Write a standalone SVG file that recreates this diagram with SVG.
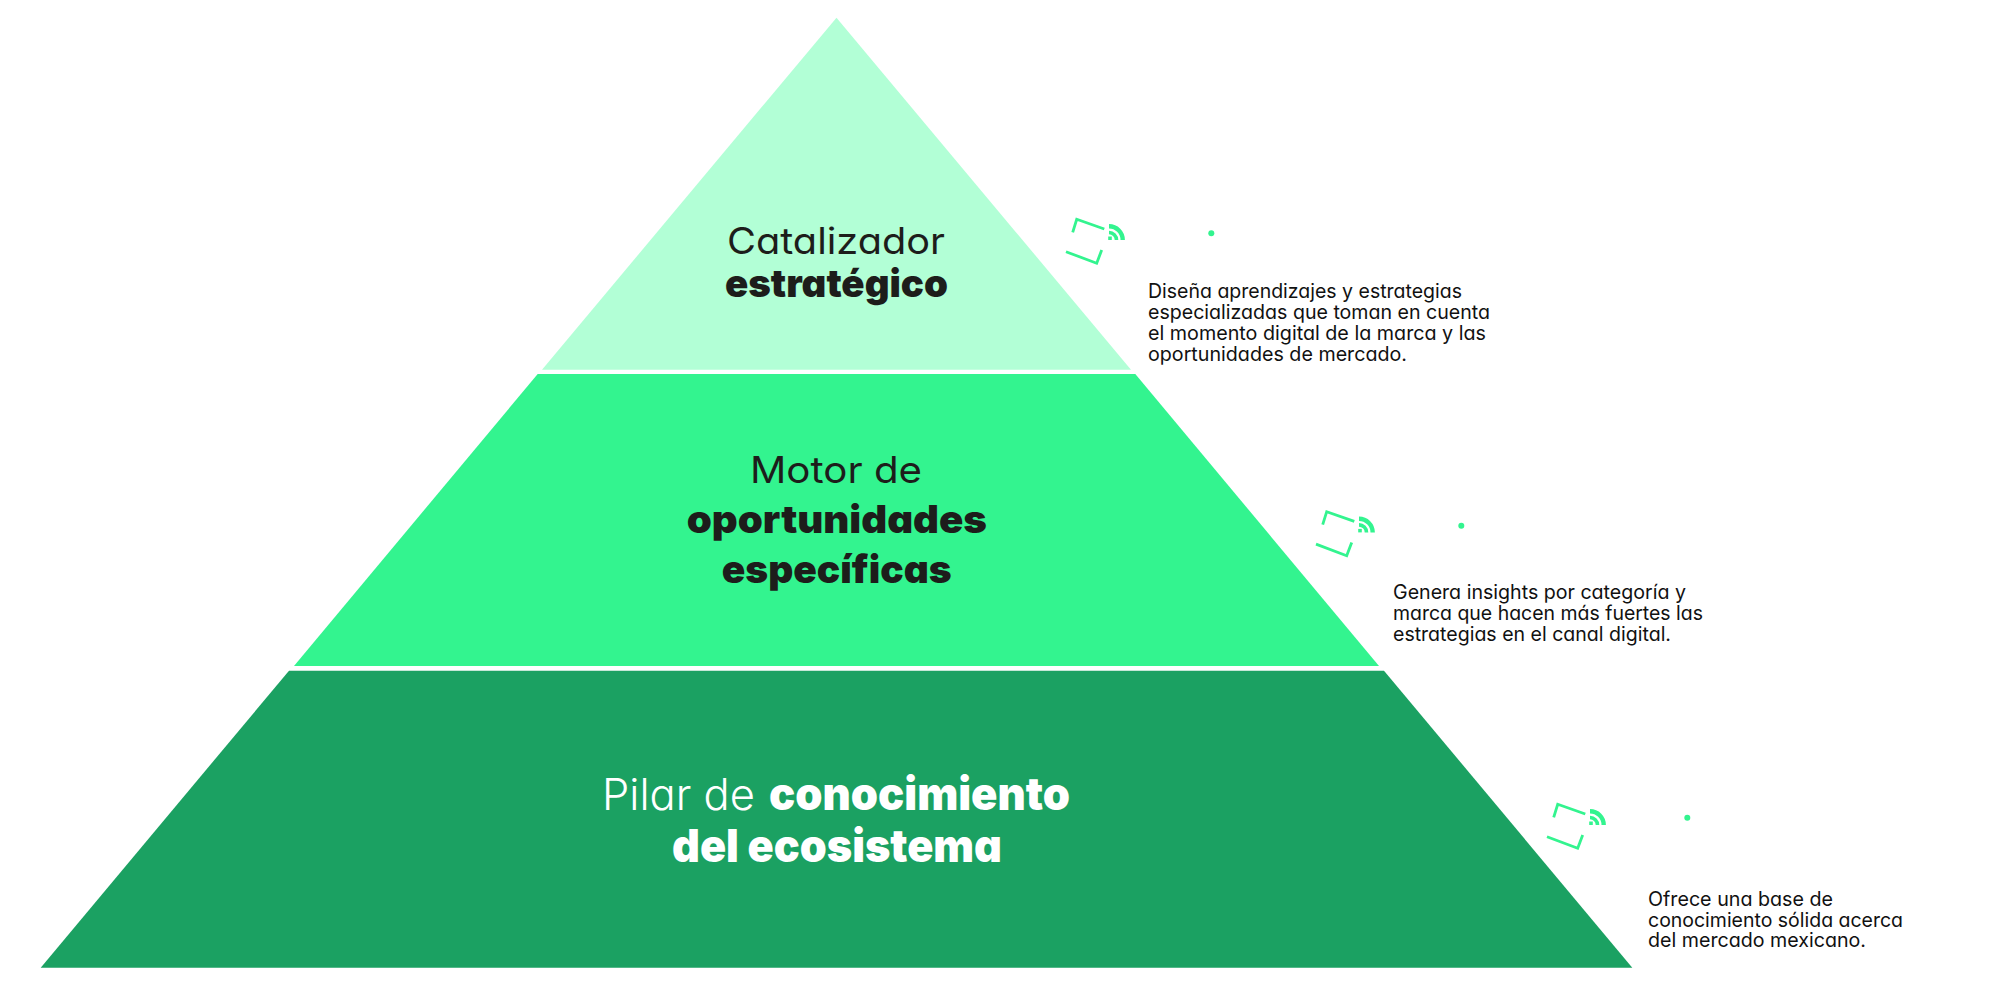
<svg xmlns="http://www.w3.org/2000/svg" width="2000" height="996" viewBox="0 0 2000 996">
<style>
text{font-feature-settings:"cv11"}
.h{font-family:"Inter","Liberation Sans",sans-serif;font-size:37px;font-weight:400;fill:#1d1d1b}
.b{font-family:"Inter","Liberation Sans",sans-serif;font-size:39px;font-weight:900;fill:#1d1d1b}
.w{fill:#fff}
.lg{font-size:43px;font-weight:300}
.bl{font-size:45px}
.t{font-family:"Inter","Liberation Sans",sans-serif;font-size:20px;fill:#111}
.ic{fill:none;stroke:#33f48f;stroke-width:2.8}
.ws{fill:none;stroke:#33f48f}
.dt{fill:#33f48f}
</style>
<defs>
<g id="icon">
<polyline class="ic" points="1072.7,232.3 1076.7,219.3 1104.3,229"/>
<polyline class="ic" points="1066,251.7 1096.7,263.3 1101.7,250"/>
<path class="ws" stroke-width="4.4" d="M1109,226.3A13.7,13.7 0 0 1 1122.7,240"/>
<path class="ws" stroke-width="3.6" d="M1109,232.5A7.5,7.5 0 0 1 1116.5,240"/>
<path class="dt" d="M1108.2,236.5h3.6v3.5h-3.6z"/>
</g>
</defs>
<rect width="2000" height="996" fill="#fff"/>
<g id="tier-catalizador">
<polygon points="836.5,17.7 1131,369.7 542,369.7" fill="#b2ffd6"/>
<text class="h" x="727" y="254" textLength="218" lengthAdjust="spacingAndGlyphs">Catalizador</text>
<text class="b" x="725" y="296.7" textLength="223" lengthAdjust="spacingAndGlyphs">estratégico</text>
</g>
<g id="tier-motor">
<polygon points="537.7,374 1135.3,374 1379,666 294,666" fill="#33f48f"/>
<text class="h" x="750" y="482.7" textLength="172" lengthAdjust="spacingAndGlyphs">Motor de</text>
<text class="b" x="686.7" y="533" textLength="300.3" lengthAdjust="spacingAndGlyphs">oportunidades</text>
<text class="b" x="721.7" y="582.7" textLength="230" lengthAdjust="spacingAndGlyphs">específicas</text>
</g>
<g id="tier-pilar">
<polygon points="289,670.7 1384,670.7 1632.3,967.7 40.7,967.7" fill="#1ba162"/>
<text class="h lg w" x="602" y="810" textLength="153" lengthAdjust="spacingAndGlyphs">Pilar de</text>
<text class="b bl w" x="769" y="810" textLength="301" lengthAdjust="spacingAndGlyphs">conocimiento</text>
<text class="b bl w" x="672" y="861.5" textLength="330" lengthAdjust="spacingAndGlyphs">del ecosistema</text>
</g>
<g id="note-catalizador">
<use href="#icon"/>
<circle class="dt" cx="1211.3" cy="233.3" r="3"/>
<text class="t" x="1148" y="298" textLength="314" lengthAdjust="spacingAndGlyphs">Diseña aprendizajes y estrategias</text>
<text class="t" x="1148" y="319" textLength="342" lengthAdjust="spacingAndGlyphs">especializadas que toman en cuenta</text>
<text class="t" x="1148" y="340" textLength="338" lengthAdjust="spacingAndGlyphs">el momento digital de la marca y las</text>
<text class="t" x="1148" y="360.7" textLength="259" lengthAdjust="spacingAndGlyphs">oportunidades de mercado.</text>
</g>
<g id="note-motor">
<use href="#icon" transform="translate(250 292.4)"/>
<circle class="dt" cx="1461.3" cy="525.7" r="3"/>
<text class="t" x="1393" y="599.3" textLength="293" lengthAdjust="spacingAndGlyphs">Genera insights por categoría y</text>
<text class="t" x="1393" y="620" textLength="310" lengthAdjust="spacingAndGlyphs">marca que hacen más fuertes las</text>
<text class="t" x="1393" y="640.7" textLength="278" lengthAdjust="spacingAndGlyphs">estrategias en el canal digital.</text>
</g>
<g id="note-pilar">
<use href="#icon" transform="translate(481 585)"/>
<circle class="dt" cx="1687.3" cy="817.7" r="3"/>
<text class="t" x="1648" y="906" textLength="185" lengthAdjust="spacingAndGlyphs">Ofrece una base de</text>
<text class="t" x="1648" y="926.7" textLength="255" lengthAdjust="spacingAndGlyphs">conocimiento sólida acerca</text>
<text class="t" x="1648" y="947.3" textLength="218" lengthAdjust="spacingAndGlyphs">del mercado mexicano.</text>
</g>
</svg>
